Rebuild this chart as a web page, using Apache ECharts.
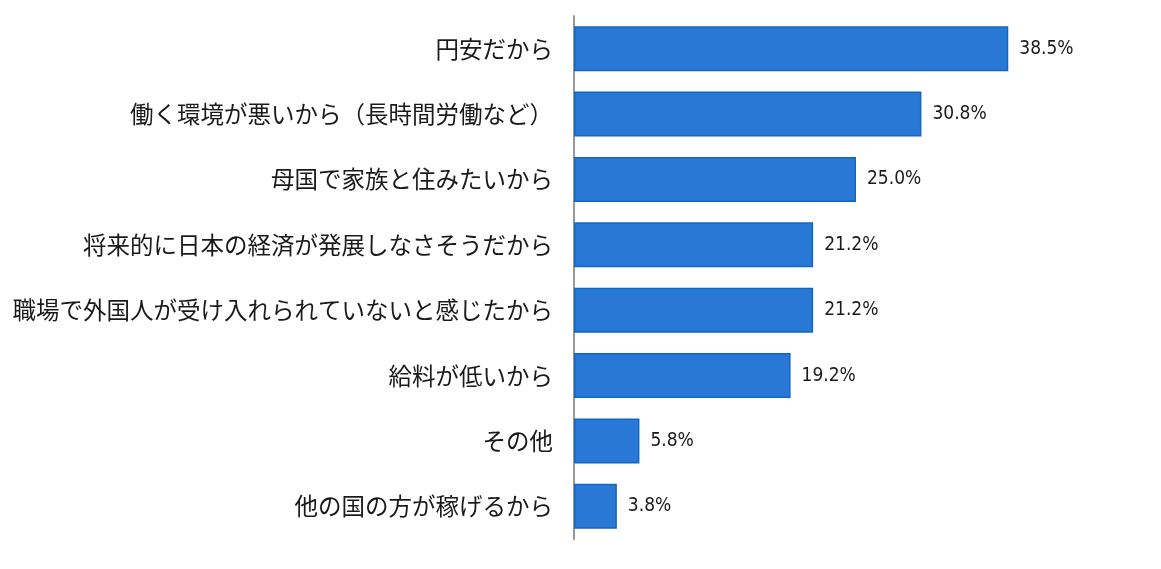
<!DOCTYPE html>
<html>
<head>
<meta charset="utf-8">
<script src="https://cdn.jsdelivr.net/npm/echarts@6/dist/echarts.min.js"></script>
<style>
  html, body { margin: 0; padding: 0; background: #fff; }
  #chart { width: 1161px; height: 569px; }
</style>
</head>
<body>
<div id="chart"></div>
<script>
const categories = [
  "円安だから",
  "働く環境が悪いから（長時間労働など）",
  "母国で家族と住みたいから",
  "将来的に日本の経済が発展しなさそうだから",
  "職場で外国人が受け入れられていないと感じたから",
  "給料が低いから",
  "その他",
  "他の国の方が稼げるから"
];
const values = [38.5, 30.8, 25.0, 21.2, 21.2, 19.2, 5.8, 3.8];

const chart = echarts.init(document.getElementById("chart"));

chart.setOption({
  animation: false,
  grid: { left: 574, right: 23, top: 16, bottom: 30 },
  xAxis: {
    type: "value",
    min: 0,
    max: 50,
    show: false
  },
  yAxis: {
    type: "category",
    data: categories,
    inverse: true,
    axisLine: { show: true, lineStyle: { color: "#999", width: 2 } },
    axisTick: { show: false },
    axisLabel: {
      color: "#1a1a1a",
      fontSize: 23.5,
      margin: 21,
      fontFamily: "Noto Sans CJK JP"
    }
  },
  series: [
    {
      type: "bar",
      data: values,
      barCategoryGap: "31%",
      itemStyle: {
        color: "#2A78D6",
        borderColor: "#0F68C2",
        borderWidth: 1.5
      },
      label: {
        show: true,
        position: "right",
        distance: 11,
        color: "#1a1a1a",
        fontSize: 19,
        fontFamily: "DejaVu Sans Condensed, Roboto, sans-serif",
        formatter: (p) => p.value.toFixed(1) + "%"
      }
    }
  ]
});
</script>
</body>
</html>
